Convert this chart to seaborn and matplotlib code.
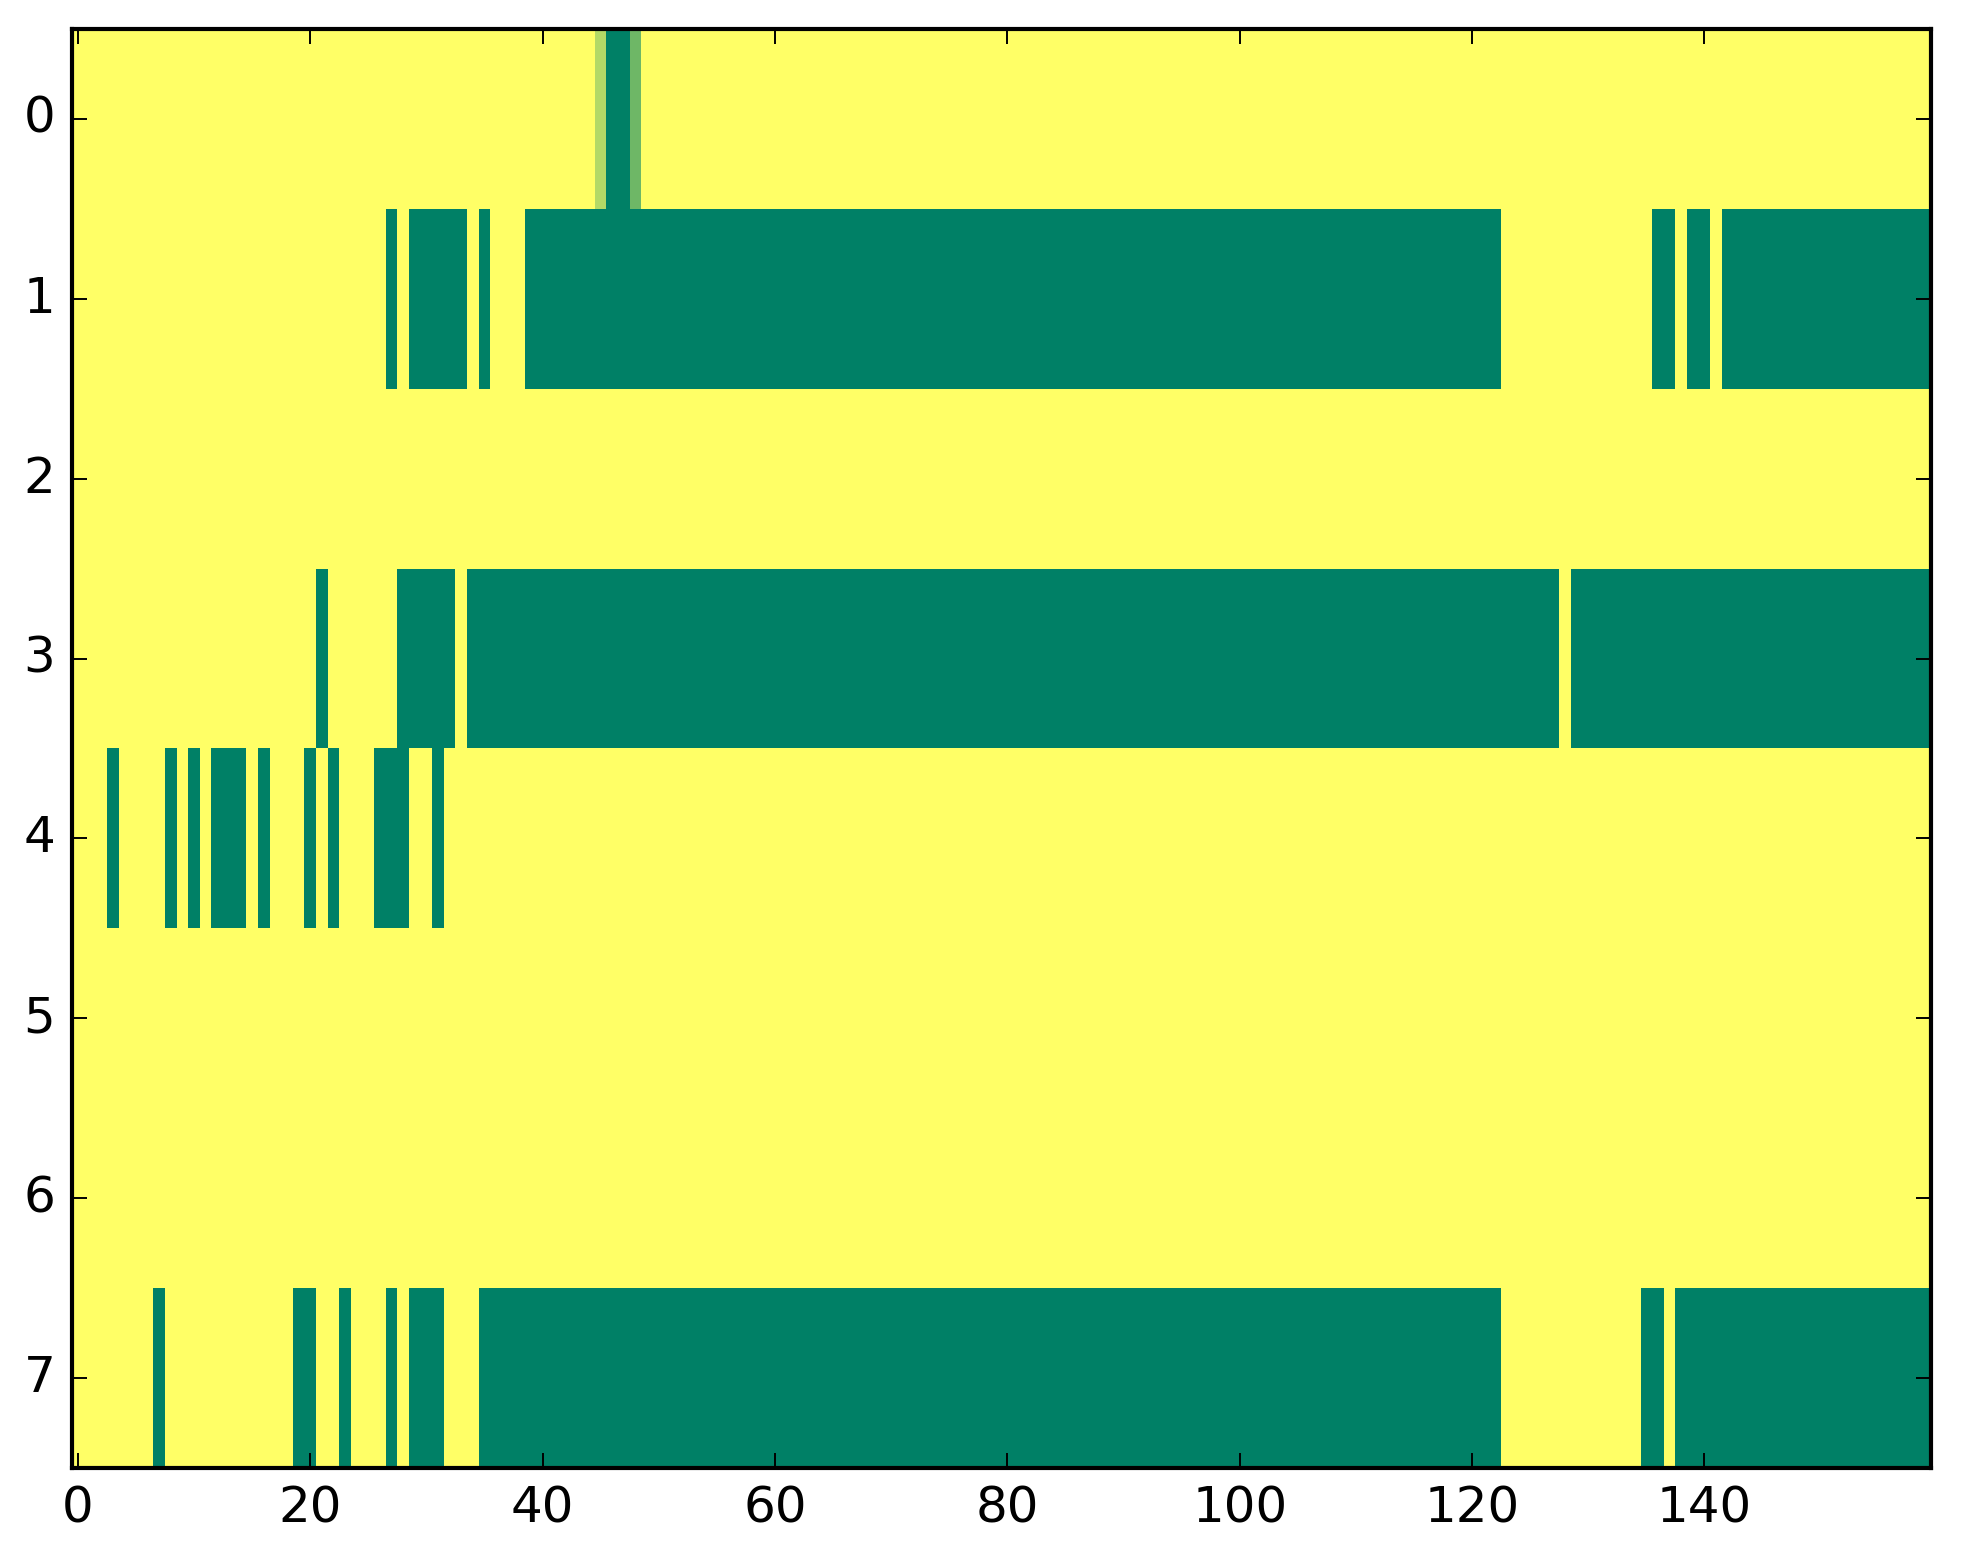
import numpy as np
import matplotlib
matplotlib.use("Agg")
import matplotlib.pyplot as plt
import seaborn as sns

n_rows = 8
n_cols = 160
row_labels = [0, 1, 2, 3, 4, 5, 6, 7]
x_tick_labels = [0, 20, 40, 60, 80, 100, 120, 140]

# runs of "on" cells (inclusive column ranges) for each row
row0_runs = [(46, 47)]
row1_runs = [(27, 27), (29, 33), (35, 35), (39, 122), (136, 137), (139, 140), (142, 159)]
row2_runs = []
row3_runs = [(21, 21), (28, 32), (34, 127), (129, 159)]
row4_runs = [(3, 3), (8, 8), (10, 10), (12, 14), (16, 16), (20, 20), (22, 22), (26, 28), (31, 31)]
row5_runs = []
row6_runs = []
row7_runs = [(7, 7), (19, 20), (23, 23), (27, 27), (29, 31), (35, 122), (135, 136), (138, 159)]

# cells with an in-between value (row, col, value)
partial_cells = [(0, 45, 0.3), (0, 48, 0.57)]

all_runs = [row0_runs, row1_runs, row2_runs, row3_runs,
            row4_runs, row5_runs, row6_runs, row7_runs]

grid = np.zeros((n_rows, n_cols))
for r, runs in enumerate(all_runs):
    for a, b in runs:
        grid[r, a:b + 1] = 1.0
for r, c, v in partial_cells:
    grid[r, c] = v

fig = plt.figure(figsize=(19.63, 15.64), dpi=100)
ax = fig.add_axes([0.0367, 0.0614, 0.947, 0.9201])

sns.heatmap(grid, cmap="summer_r", vmin=0, vmax=1, cbar=False, ax=ax,
            xticklabels=False, yticklabels=False)

ax.set_xticks(np.array(x_tick_labels) + 0.5)
ax.set_xticklabels([str(v) for v in x_tick_labels])
ax.set_yticks(np.array(row_labels) + 0.5)
ax.set_yticklabels([str(v) for v in row_labels], rotation=0, va="center")

for s in ax.spines.values():
    s.set_visible(True)
    s.set_linewidth(3.0)
    s.set_color("black")

ax.tick_params(axis="both", direction="in", length=11, width=1.4,
               top=True, right=True, labelsize=36, pad=12, colors="black")

fig.savefig("out.png", dpi=100)
